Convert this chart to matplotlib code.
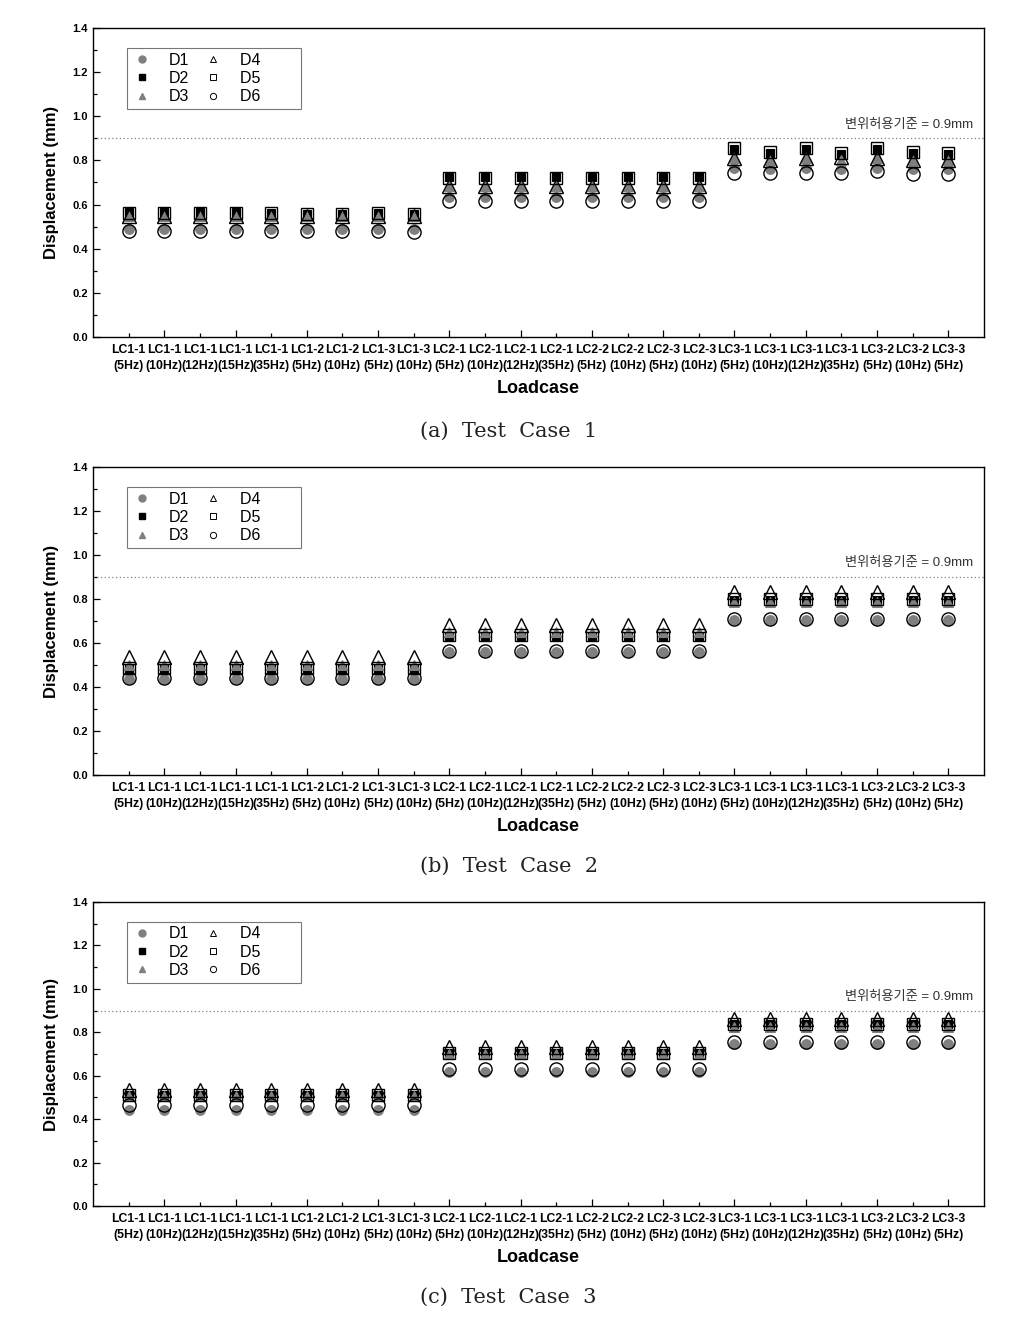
import matplotlib
matplotlib.use('Agg')
import matplotlib.pyplot as plt
from matplotlib.lines import Line2D
import numpy as np

plt.rcParams['font.family'] = ['Liberation Sans', 'Noto Sans CJK KR', 'DejaVu Sans']

# 하중 케이스 라벨
loadcases = ['LC1-1\n(5Hz)', 'LC1-1\n(10Hz)', 'LC1-1\n(12Hz)', 'LC1-1\n(15Hz)', 'LC1-1\n(35Hz)',
             'LC1-2\n(5Hz)', 'LC1-2\n(10Hz)', 'LC1-3\n(5Hz)', 'LC1-3\n(10Hz)',
             'LC2-1\n(5Hz)', 'LC2-1\n(10Hz)', 'LC2-1\n(12Hz)', 'LC2-1\n(35Hz)',
             'LC2-2\n(5Hz)', 'LC2-2\n(10Hz)', 'LC2-3\n(5Hz)', 'LC2-3\n(10Hz)',
             'LC3-1\n(5Hz)', 'LC3-1\n(10Hz)', 'LC3-1\n(12Hz)', 'LC3-1\n(35Hz)',
             'LC3-2\n(5Hz)', 'LC3-2\n(10Hz)', 'LC3-3\n(5Hz)']

# Test Case 1
d1_a = [0.49, 0.49, 0.49, 0.49, 0.49, 0.49, 0.49, 0.49, 0.49,
        0.635, 0.635, 0.635, 0.635, 0.635, 0.635, 0.635, 0.635,
        0.765, 0.76, 0.765, 0.76, 0.765, 0.76, 0.76]
d2_a = [0.565, 0.565, 0.565, 0.565, 0.56, 0.555, 0.555, 0.56, 0.555,
        0.725, 0.725, 0.725, 0.725, 0.725, 0.725, 0.725, 0.725,
        0.85, 0.835, 0.85, 0.83, 0.85, 0.835, 0.83]
d3_a = [0.55, 0.55, 0.55, 0.55, 0.55, 0.55, 0.55, 0.55, 0.55,
        0.685, 0.685, 0.685, 0.685, 0.685, 0.685, 0.685, 0.685,
        0.81, 0.80, 0.81, 0.80, 0.81, 0.80, 0.80]
d4_a = [0.55, 0.55, 0.55, 0.55, 0.55, 0.55, 0.55, 0.55, 0.55,
        0.685, 0.685, 0.685, 0.685, 0.685, 0.685, 0.685, 0.685,
        0.81, 0.80, 0.81, 0.815, 0.81, 0.80, 0.80]
d5_a = [0.56, 0.56, 0.56, 0.56, 0.56, 0.555, 0.555, 0.56, 0.555,
        0.72, 0.72, 0.72, 0.72, 0.72, 0.72, 0.72, 0.72,
        0.855, 0.84, 0.855, 0.835, 0.855, 0.84, 0.835]
d6_a = [0.48, 0.48, 0.48, 0.48, 0.48, 0.48, 0.48, 0.48, 0.475,
        0.615, 0.615, 0.615, 0.615, 0.615, 0.615, 0.615, 0.615,
        0.745, 0.745, 0.745, 0.745, 0.75, 0.74, 0.74]

# Test Case 2
d1_b = [0.435, 0.435, 0.435, 0.435, 0.435, 0.435, 0.435, 0.435, 0.435,
        0.56, 0.56, 0.56, 0.56, 0.56, 0.56, 0.56, 0.56,
        0.705, 0.705, 0.705, 0.705, 0.705, 0.705, 0.705]
d2_b = [0.48, 0.48, 0.48, 0.48, 0.48, 0.48, 0.48, 0.48, 0.48,
        0.63, 0.63, 0.63, 0.63, 0.63, 0.63, 0.63, 0.63,
        0.795, 0.795, 0.795, 0.795, 0.795, 0.795, 0.795]
d3_b = [0.50, 0.50, 0.50, 0.50, 0.50, 0.50, 0.50, 0.50, 0.50,
        0.65, 0.65, 0.65, 0.65, 0.65, 0.65, 0.65, 0.65,
        0.785, 0.785, 0.785, 0.785, 0.785, 0.785, 0.785]
d4_b = [0.535, 0.535, 0.535, 0.535, 0.535, 0.535, 0.535, 0.535, 0.535,
        0.68, 0.68, 0.68, 0.68, 0.68, 0.68, 0.68, 0.68,
        0.83, 0.83, 0.83, 0.83, 0.83, 0.83, 0.83]
d5_b = [0.485, 0.485, 0.485, 0.485, 0.485, 0.485, 0.485, 0.485, 0.485,
        0.635, 0.635, 0.635, 0.635, 0.635, 0.635, 0.635, 0.635,
        0.80, 0.80, 0.80, 0.80, 0.80, 0.80, 0.80]
d6_b = [0.44, 0.44, 0.44, 0.44, 0.44, 0.44, 0.44, 0.44, 0.44,
        0.565, 0.565, 0.565, 0.565, 0.565, 0.565, 0.565, 0.565,
        0.71, 0.71, 0.71, 0.71, 0.71, 0.71, 0.71]

# Test Case 3
d1_c = [0.44, 0.44, 0.44, 0.44, 0.44, 0.44, 0.44, 0.44, 0.44,
        0.615, 0.615, 0.615, 0.615, 0.615, 0.615, 0.615, 0.615,
        0.745, 0.745, 0.745, 0.745, 0.745, 0.745, 0.745]
d2_c = [0.51, 0.51, 0.51, 0.51, 0.51, 0.51, 0.51, 0.51, 0.51,
        0.705, 0.705, 0.705, 0.705, 0.705, 0.705, 0.705, 0.705,
        0.84, 0.84, 0.84, 0.84, 0.84, 0.84, 0.84]
d3_c = [0.505, 0.505, 0.505, 0.505, 0.505, 0.505, 0.505, 0.505, 0.505,
        0.70, 0.70, 0.70, 0.70, 0.70, 0.70, 0.70, 0.70,
        0.825, 0.825, 0.825, 0.825, 0.825, 0.825, 0.825]
d4_c = [0.535, 0.535, 0.535, 0.535, 0.535, 0.535, 0.535, 0.535, 0.535,
        0.73, 0.73, 0.73, 0.73, 0.73, 0.73, 0.73, 0.73,
        0.86, 0.86, 0.86, 0.86, 0.86, 0.86, 0.86]
d5_c = [0.51, 0.51, 0.51, 0.51, 0.51, 0.51, 0.51, 0.51, 0.51,
        0.705, 0.705, 0.705, 0.705, 0.705, 0.705, 0.705, 0.705,
        0.84, 0.84, 0.84, 0.84, 0.84, 0.84, 0.84]
d6_c = [0.465, 0.465, 0.465, 0.465, 0.465, 0.465, 0.465, 0.465, 0.465,
        0.63, 0.63, 0.63, 0.63, 0.63, 0.63, 0.63, 0.63,
        0.755, 0.755, 0.755, 0.755, 0.755, 0.755, 0.755]

limit = 0.9
limit_text = '변위허용기준 = 0.9mm'
captions = ['(a)  Test  Case  1', '(b)  Test  Case  2', '(c)  Test  Case  3']
series_names = ['D1', 'D2', 'D3', 'D4', 'D5', 'D6']

panels = [[d1_a, d2_a, d3_a, d4_a, d5_a, d6_a],
          [d1_b, d2_b, d3_b, d4_b, d5_b, d6_b],
          [d1_c, d2_c, d3_c, d4_c, d5_c, d6_c]]

# 마커 스타일 (D1 ~ D6)
grey = '#7f7f7f'
styles = [dict(marker='o', ms=7, mfc=grey, mec=grey, mew=0.8),
          dict(marker='s', ms=6, mfc='black', mec='black', mew=0.8),
          dict(marker='^', ms=7.5, mfc=grey, mec=grey, mew=0.8),
          dict(marker='^', ms=10, mfc='none', mec='black', mew=1.0),
          dict(marker='s', ms=8.5, mfc='none', mec='black', mew=1.0),
          dict(marker='o', ms=9.5, mfc='none', mec='black', mew=1.0)]
legend_styles = [dict(marker='o', ms=5, mfc=grey, mec=grey),
                 dict(marker='s', ms=4.5, mfc='black', mec='black'),
                 dict(marker='^', ms=5, mfc=grey, mec=grey),
                 dict(marker='^', ms=5, mfc='none', mec='black', mew=0.7),
                 dict(marker='s', ms=4.5, mfc='none', mec='black', mew=0.7),
                 dict(marker='o', ms=4.5, mfc='none', mec='black', mew=0.7)]

fig = plt.figure(figsize=(10.34, 13.18), dpi=100)

# 패널 위치 (left, bottom, width, height)
boxes = [[0.0899, 0.7443, 0.8617, 0.2345],
         [0.0899, 0.4120, 0.8617, 0.2337],
         [0.0899, 0.0850, 0.8617, 0.2307]]
caption_y = [0.673, 0.343, 0.016]

x = np.arange(1, len(loadcases) + 1)

for k in range(3):
    ax = fig.add_axes(boxes[k])
    for vals, st in zip(panels[k], styles):
        ax.plot(x, vals, linestyle='none', **st)

    ax.axhline(limit, color='#808080', linestyle=(0, (1, 2)), linewidth=0.9)
    ax.text(24.7, limit + 0.035, limit_text, ha='right', va='bottom', fontsize=9.5, color='#333333')

    ax.set_xlim(0, 25)
    ax.set_ylim(0, 1.4)
    ax.set_xticks(x[1::2])
    ax.set_xticklabels(loadcases[1::2])
    ax.set_xticks(x[0::2], minor=True)
    ax.set_xticklabels(loadcases[0::2], minor=True)
    ax.set_yticks(np.arange(0, 1.41, 0.2))
    ax.set_yticks(np.arange(0.1, 1.4, 0.2), minor=True)
    ax.set_yticklabels(['%.1f' % v for v in np.arange(0, 1.41, 0.2)])
    ax.tick_params(axis='both', which='both', direction='in', width=0.9)
    ax.tick_params(axis='x', which='both', labelsize=8.8, pad=5)
    ax.tick_params(axis='y', labelsize=8)
    ax.tick_params(axis='both', which='major', length=5)
    ax.tick_params(axis='both', which='minor', length=3)
    for lab in ax.get_xticklabels(which='both'):
        lab.set_fontweight('bold')
        lab.set_linespacing(1.45)
    for lab in ax.get_yticklabels():
        lab.set_fontweight('bold')
    for sp in ax.spines.values():
        sp.set_linewidth(1.0)

    ax.set_xlabel('Loadcase', fontsize=13, fontweight='bold', labelpad=6)
    ax.set_ylabel('Displacement (mm)', fontsize=12, fontweight='bold', labelpad=10)

    # 범례 (오른쪽 여백은 공백으로)
    handles = [Line2D([], [], linestyle='none', **ls) for ls in legend_styles]
    names = series_names[:3] + [n + '        ' for n in series_names[3:]]
    leg = ax.legend(handles, names, ncol=2, loc='upper left',
                    bbox_to_anchor=(0.038, 0.935), borderaxespad=0, fontsize=11.5,
                    frameon=True, fancybox=False, handlelength=1.3, handletextpad=1.0,
                    columnspacing=0.9, labelspacing=0.2, borderpad=0.3)
    leg.get_frame().set_edgecolor('#555555')
    leg.get_frame().set_linewidth(0.8)

    fig.text(0.492, caption_y[k], captions[k], ha='center', va='center',
             fontsize=15, family='DejaVu Serif', color='#222222')

fig.savefig('out.png', dpi=100)
